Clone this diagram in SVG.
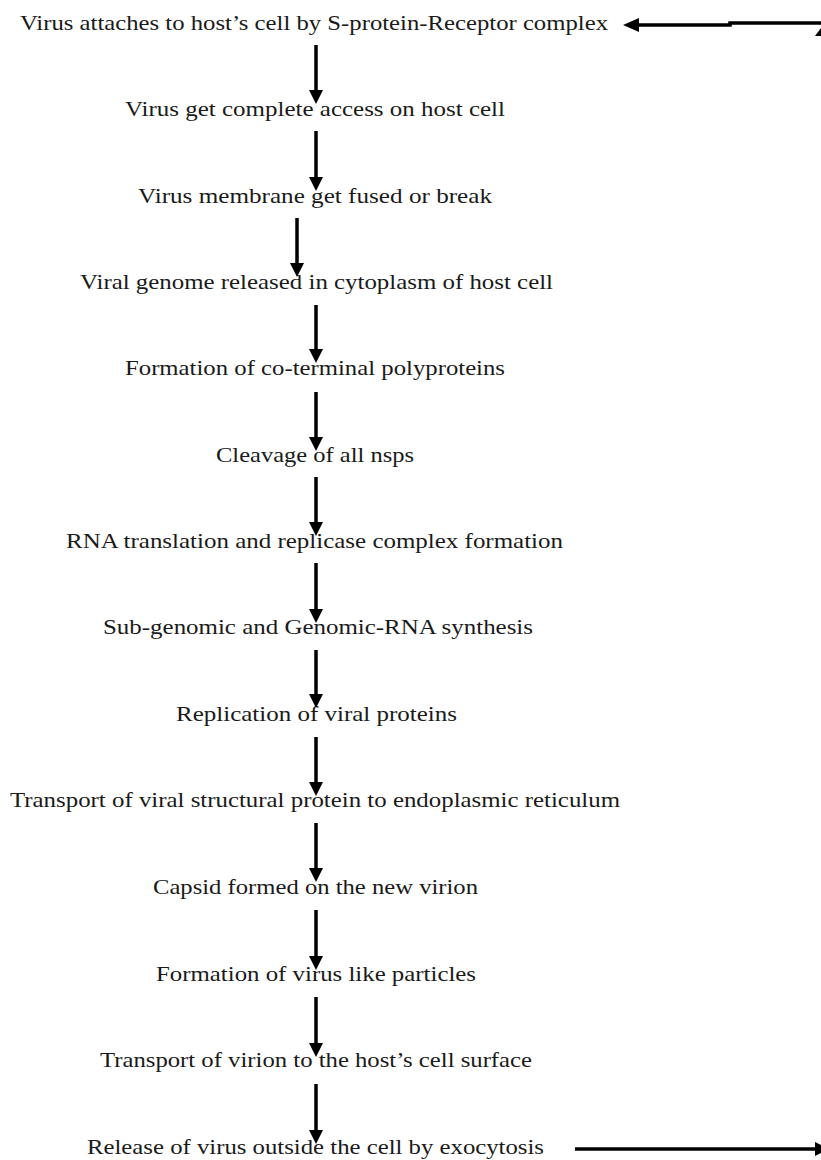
<svg xmlns="http://www.w3.org/2000/svg" width="821" height="1160" viewBox="0 0 821 1160">
<defs>
<style>
.t{font-family:"Liberation Serif","Times New Roman",serif;font-size:21px;fill:#1a1a1a;}
.c{stroke:#000;stroke-width:3.5;fill:none;}
.h{fill:#000;}
</style>
</defs>
<rect width="821" height="1160" fill="#fff"/>
<g id="n1"><text class="t" x="20" y="30" textLength="588" lengthAdjust="spacingAndGlyphs">Virus attaches to host’s cell by S-protein-Receptor complex</text></g>
<g id="n2"><text class="t" x="125" y="116" textLength="380" lengthAdjust="spacingAndGlyphs">Virus get complete access on host cell</text></g>
<g id="n3"><text class="t" x="138" y="203" textLength="354" lengthAdjust="spacingAndGlyphs">Virus membrane get fused or break</text></g>
<g id="n4"><text class="t" x="80" y="289" textLength="473" lengthAdjust="spacingAndGlyphs">Viral genome released in cytoplasm of host cell</text></g>
<g id="n5"><text class="t" x="125" y="375" textLength="380" lengthAdjust="spacingAndGlyphs">Formation of co-terminal polyproteins</text></g>
<g id="n6"><text class="t" x="216" y="462" textLength="198" lengthAdjust="spacingAndGlyphs">Cleavage of all nsps</text></g>
<g id="n7"><text class="t" x="66" y="548" textLength="497" lengthAdjust="spacingAndGlyphs">RNA translation and replicase complex  formation</text></g>
<g id="n8"><text class="t" x="103" y="634" textLength="430" lengthAdjust="spacingAndGlyphs">Sub-genomic and Genomic-RNA synthesis</text></g>
<g id="n9"><text class="t" x="176" y="721" textLength="281" lengthAdjust="spacingAndGlyphs">Replication of viral proteins</text></g>
<g id="n10"><text class="t" x="10" y="807" textLength="610" lengthAdjust="spacingAndGlyphs">Transport of viral structural protein to endoplasmic reticulum</text></g>
<g id="n11"><text class="t" x="153" y="894" textLength="325" lengthAdjust="spacingAndGlyphs">Capsid formed on the new virion</text></g>
<g id="n12"><text class="t" x="156" y="981" textLength="320" lengthAdjust="spacingAndGlyphs">Formation of virus like particles</text></g>
<g id="n13"><text class="t" x="100" y="1067" textLength="432" lengthAdjust="spacingAndGlyphs">Transport of virion to the host’s cell surface</text></g>
<g id="n14"><text class="t" x="87" y="1154" textLength="457" lengthAdjust="spacingAndGlyphs">Release of virus outside the cell by exocytosis</text></g>
<g id="connectors">
<line class="c" x1="316" y1="45" x2="316" y2="92"/><path class="h" d="M309,90 L323,90 L316,104 Z"/>
<line class="c" x1="316" y1="131" x2="316" y2="179"/><path class="h" d="M309,177 L323,177 L316,191 Z"/>
<line class="c" x1="297" y1="218" x2="297" y2="265"/><path class="h" d="M290,263 L304,263 L297,277 Z"/>
<line class="c" x1="316" y1="305" x2="316" y2="351"/><path class="h" d="M309,349 L323,349 L316,363 Z"/>
<line class="c" x1="316" y1="392" x2="316" y2="439"/><path class="h" d="M309,437 L323,437 L316,451 Z"/>
<line class="c" x1="316" y1="477" x2="316" y2="524"/><path class="h" d="M309,522 L323,522 L316,536 Z"/>
<line class="c" x1="316" y1="563" x2="316" y2="611"/><path class="h" d="M309,609 L323,609 L316,623 Z"/>
<line class="c" x1="316" y1="650" x2="316" y2="696"/><path class="h" d="M309,694 L323,694 L316,708 Z"/>
<line class="c" x1="316" y1="737" x2="316" y2="784"/><path class="h" d="M309,782 L323,782 L316,796 Z"/>
<line class="c" x1="316" y1="823" x2="316" y2="870"/><path class="h" d="M309,868 L323,868 L316,882 Z"/>
<line class="c" x1="316" y1="910" x2="316" y2="958"/><path class="h" d="M309,956 L323,956 L316,970 Z"/>
<line class="c" x1="316" y1="997" x2="316" y2="1045"/><path class="h" d="M309,1043 L323,1043 L316,1057 Z"/>
<line class="c" x1="316" y1="1084" x2="316" y2="1132"/><path class="h" d="M309,1130 L323,1130 L316,1144 Z"/>
<polyline class="c" points="821,23 730,23 730,25 636,25" stroke-width="4"/><path class="h" d="M623,25 L639,18 L639,32 Z"/>
<path class="h" d="M815,36 L821,28 L821,36 Z"/>
<line class="c" x1="575" y1="1149" x2="815" y2="1149"/><path class="h" d="M815,1142 L821,1145 L821,1153 L815,1156 Z"/>
</g>
</svg>
